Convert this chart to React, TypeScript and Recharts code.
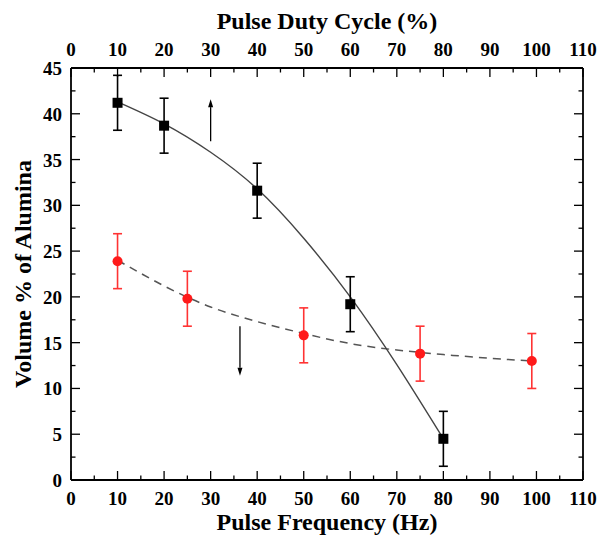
import { ComposedChart, Line, Scatter, XAxis, YAxis, ErrorBar, ReferenceLine, Label } from 'recharts';

// black squares, plotted against the top axis (duty cycle)
const dutyCycle = [10, 20, 40, 60, 80];
const dutyVolume = [41.2, 38.7, 31.6, 19.2, 4.5];
const dutyError = [3, 3, 3, 3, 3];

// red circles, plotted against the bottom axis (frequency)
const frequency = [10, 25, 50, 75, 99];
const freqVolume = [23.9, 19.8, 15.8, 13.8, 13.0];
const freqError = [3, 3, 3, 3, 3];

// fitted curves
const dutyFitX = [10, 20, 30, 40, 50, 60, 70, 80];
const dutyFitY = [41.3, 38.9, 35.8, 31.8, 26.4, 20.0, 12.6, 4.5];
const freqFitX = [10, 20, 30, 40, 50, 60, 70, 80, 90, 99];
const freqFitY = [24.0, 21.2, 18.9, 17.3, 16.0, 14.9, 14.2, 13.7, 13.3, 13.0];

const xTicks = [0, 5, 10, 15, 20, 25, 30, 35, 40, 45, 50, 55, 60, 65, 70, 75, 80, 85, 90, 95, 100, 105, 110];
const yTicks = [0, 2.5, 5, 7.5, 10, 12.5, 15, 17.5, 20, 22.5, 25, 27.5, 30, 32.5, 35, 37.5, 40, 42.5, 45];

const upArrow = [{ x: 30, y: 37.0 }, { x: 30, y: 41.6 }];
const downArrow = [{ x: 36.3, y: 16.8 }, { x: 36.3, y: 11.4 }];

const dutyData = dutyCycle.map((x, i) => ({ x, y: dutyVolume[i], err: dutyError[i] }));
const freqData = frequency.map((x, i) => ({ x, y: freqVolume[i], err: freqError[i] }));
const dutyFit = dutyFitX.map((x, i) => ({ x, y: dutyFitY[i] }));
const freqFit = freqFitX.map((x, i) => ({ x, y: freqFitY[i] }));

const FONT = '"Liberation Serif", "Times New Roman", serif';
const textStyle = { fontFamily: FONT, fontWeight: 700, fontSize: 19, fill: '#000' };
const titleStyle = { fontFamily: FONT, fontWeight: 700, fontSize: 24, fill: '#000' };

const isMajor = (v: number, step: number) => Math.abs(v / step - Math.round(v / step)) < 1e-6;

const BottomTick = ({ x, y, payload }: any) => {
  const major = isMajor(payload.value, 10);
  return (
    <g>
      <line x1={x} x2={x} y1={y} y2={y - (major ? 9 : 4.5)} stroke="#000" strokeWidth={1.3} />
      {major && <text x={x} y={y + 25} textAnchor="middle" style={textStyle}>{payload.value}</text>}
    </g>
  );
};

const TopTick = ({ x, y, payload }: any) => {
  const major = isMajor(payload.value, 10);
  return (
    <g>
      <line x1={x} x2={x} y1={y} y2={y + (major ? 9 : 4.5)} stroke="#000" strokeWidth={1.3} />
      {major && <text x={x} y={y - 12} textAnchor="middle" style={textStyle}>{payload.value}</text>}
    </g>
  );
};

const LeftTick = ({ x, y, payload }: any) => {
  const major = isMajor(payload.value, 5);
  return (
    <g>
      <line x1={x} x2={x + (major ? 9 : 4.5)} y1={y} y2={y} stroke="#000" strokeWidth={1.3} />
      {major && <text x={x - 9} y={y + 7} textAnchor="end" style={textStyle}>{payload.value}</text>}
    </g>
  );
};

const RightTick = ({ x, y, payload }: any) => {
  const major = isMajor(payload.value, 5);
  return <line x1={x} x2={x - (major ? 9 : 4.5)} y1={y} y2={y} stroke="#000" strokeWidth={1.3} />;
};

const Arrow = ({ x1, y1, x2, y2 }: any) => {
  const len = Math.hypot(x2 - x1, y2 - y1) || 1;
  const ux = (x2 - x1) / len;
  const uy = (y2 - y1) / len;
  const bx = x2 - ux * 8;
  const by = y2 - uy * 8;
  const head = `${x2},${y2} ${bx - uy * 2.5},${by + ux * 2.5} ${bx + uy * 2.5},${by - ux * 2.5}`;
  return (
    <g>
      <line x1={x1} y1={y1} x2={bx} y2={by} stroke="#000" strokeWidth={1.3} />
      <polygon points={head} fill="#000" />
    </g>
  );
};

const Square = ({ cx, cy }: any) => <rect x={cx - 5} y={cy - 5} width={10} height={10} fill="#000" />;
const Dot = ({ cx, cy }: any) => <circle cx={cx} cy={cy} r={5} fill="#ff1a1a" />;

export default function App() {
  return (
    <div style={{ position: 'absolute', left: 0, top: 0, background: '#fff' }}>
      <ComposedChart width={601} height={542} margin={{ top: 0, right: 0, bottom: 0, left: 0 }}>
        <XAxis
          xAxisId="freq"
          dataKey="x"
          type="number"
          domain={[0, 110]}
          ticks={xTicks}
          interval={0}
          height={62}
          tickLine={false}
          tickSize={0}
          tickMargin={0}
          tick={BottomTick}
          axisLine={{ stroke: '#000', strokeWidth: 1.8 }}
          allowDataOverflow
        >
          <Label
            content={({ viewBox }: any) => (
              <text x={(viewBox?.x ?? 71) + (viewBox?.width ?? 512) / 2} y={(viewBox?.y ?? 480) + 50} textAnchor="middle" style={titleStyle}>
                Pulse Frequency (Hz)
              </text>
            )}
          />
        </XAxis>
        <XAxis
          xAxisId="duty"
          orientation="top"
          dataKey="x"
          type="number"
          domain={[0, 110]}
          ticks={xTicks}
          interval={0}
          height={68}
          tickLine={false}
          tickSize={0}
          tickMargin={0}
          tick={TopTick}
          axisLine={{ stroke: '#000', strokeWidth: 1.8 }}
          allowDataOverflow
        >
          <Label
            content={({ viewBox }: any) => (
              <text x={(viewBox?.x ?? 71) + (viewBox?.width ?? 512) / 2} y={(viewBox?.y ?? 0) + 29} textAnchor="middle" style={titleStyle}>
                Pulse Duty Cycle (%)
              </text>
            )}
          />
        </XAxis>
        <YAxis
          yAxisId="left"
          dataKey="y"
          type="number"
          domain={[0, 45]}
          ticks={yTicks}
          interval={0}
          width={71}
          tickLine={false}
          tickSize={0}
          tickMargin={0}
          tick={LeftTick}
          axisLine={{ stroke: '#000', strokeWidth: 1.8 }}
          allowDataOverflow
        >
          <Label
            content={({ viewBox }: any) => {
              const cx = (viewBox?.x ?? 0) + 31;
              const cy = (viewBox?.y ?? 68) + (viewBox?.height ?? 412) / 2;
              return (
                <text x={cx} y={cy} transform={`rotate(-90, ${cx}, ${cy})`} textAnchor="middle" style={titleStyle}>
                  Volume % of Alumina
                </text>
              );
            }}
          />
        </YAxis>
        <YAxis
          yAxisId="right"
          orientation="right"
          dataKey="y"
          type="number"
          domain={[0, 45]}
          ticks={yTicks}
          interval={0}
          width={18}
          tickLine={false}
          tickSize={0}
          tickMargin={0}
          tick={RightTick}
          axisLine={{ stroke: '#000', strokeWidth: 1.8 }}
          allowDataOverflow
        />

        <Line
          data={freqFit}
          xAxisId="freq"
          yAxisId="left"
          dataKey="y"
          type="natural"
          stroke="#555"
          strokeWidth={1.5}
          strokeDasharray="8 6"
          dot={false}
          activeDot={false}
          isAnimationActive={false}
        />
        <Line
          data={dutyFit}
          xAxisId="duty"
          yAxisId="left"
          dataKey="y"
          type="natural"
          stroke="#444"
          strokeWidth={1.4}
          dot={false}
          activeDot={false}
          isAnimationActive={false}
        />

        <Scatter data={freqData} xAxisId="freq" yAxisId="left" dataKey="y" shape={Dot} isAnimationActive={false}>
          <ErrorBar dataKey="err" direction="y" width={4.5} stroke="#ff3333" strokeWidth={1.6} isAnimationActive={false} />
        </Scatter>
        <Scatter data={dutyData} xAxisId="duty" yAxisId="left" dataKey="y" shape={Square} isAnimationActive={false}>
          <ErrorBar dataKey="err" direction="y" width={4.5} stroke="#000" strokeWidth={1.6} isAnimationActive={false} />
        </Scatter>

        <ReferenceLine xAxisId="duty" yAxisId="left" segment={upArrow} shape={Arrow} />
        <ReferenceLine xAxisId="freq" yAxisId="left" segment={downArrow} shape={Arrow} />
      </ComposedChart>
    </div>
  );
}
